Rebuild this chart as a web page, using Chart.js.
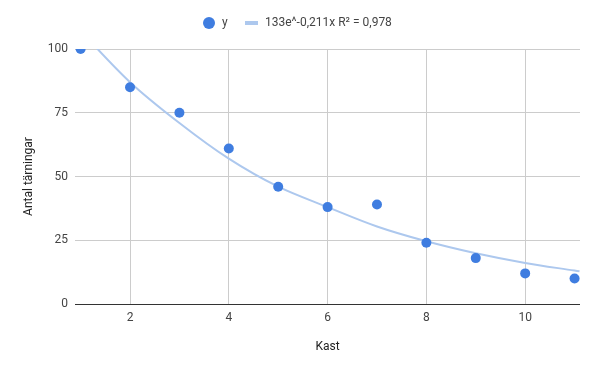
<!DOCTYPE html>
<html><head><meta charset="utf-8">
<script src="https://cdn.jsdelivr.net/npm/chart.js@4/dist/chart.umd.min.js"></script>
<style>html,body{margin:0;padding:0;background:#fff}#wrap{width:600px;height:368px}</style>
</head><body><div id="wrap"><canvas id="c" width="600" height="368"></canvas></div>
<script>
const kast = [1, 2, 3, 4, 5, 6, 7, 8, 9, 10, 11];
const antal = [100, 85, 75, 61, 46, 38, 39, 24, 18, 12, 10];
const trendX = [1, 2, 3, 4, 5, 6, 7, 8, 9, 10, 11, 11.1];
const trendY = [107, 87, 71, 57, 46, 38, 30.4, 24.6, 19.9, 16.1, 13.1, 12.8];
const xTicks = [2, 4, 6, 8, 10];
const seriesName = 'y';
const trendName = '133e^-0,211x R² = 0,978';
const xTitle = 'Kast';
const yTitle = 'Antal tärningar';

const pointColor = '#3f7de0';
const trendColor = '#adc8ee';
const FONT = 'Roboto, Arial, sans-serif';

const legendPlugin = {
  id: 'topLegend',
  afterDraw(chart) {
    const ctx = chart.ctx;
    ctx.save();
    const y = 23;
    ctx.fillStyle = pointColor;
    ctx.beginPath(); ctx.arc(209, y, 6, 0, Math.PI * 2); ctx.fill();
    ctx.font = '12px ' + FONT;
    ctx.fillStyle = '#444';
    ctx.textBaseline = 'middle';
    ctx.fillText(seriesName, 222, y);
    ctx.strokeStyle = trendColor; ctx.lineWidth = 4;
    ctx.beginPath(); ctx.moveTo(245, y); ctx.lineTo(258, y); ctx.stroke();
    ctx.fillText(trendName, 265, y);
    ctx.restore();
  }
};

new Chart(document.getElementById('c'), {
  type: 'scatter',
  data: {
    datasets: [
      { label: seriesName, data: kast.map((x, i) => ({x, y: antal[i]})),
        backgroundColor: pointColor, borderColor: pointColor, pointRadius: 5, pointHoverRadius: 5, borderWidth: 0, order: 0 },
      { label: trendName, data: trendX.map((x, i) => ({x, y: trendY[i]})),
        showLine: true, borderColor: trendColor, backgroundColor: trendColor, borderWidth: 2,
        pointRadius: 0, cubicInterpolationMode: 'monotone', order: 1 }
    ]
  },
  options: {
    responsive: false, animation: false,
    layout: { padding: { top: 49, right: 20, left: 0, bottom: 0 } },
    plugins: { legend: { display: false }, tooltip: { enabled: false } },
    scales: {
      x: {
        type: 'linear', min: 0.886, max: 11.11,
        afterBuildTicks: s => { s.ticks = xTicks.map(v => ({ value: v })); },
        afterFit: s => { s.height = 64; },
        grid: { color: '#cccccc', drawTicks: false },
        border: { display: false },
        ticks: { color: '#444', font: { family: FONT, size: 12 }, padding: 7, maxRotation: 0 },
        title: { display: true, text: xTitle, color: '#222', font: { family: FONT, size: 12 }, padding: { top: 0, bottom: 14 } }
      },
      y: {
        min: 0, max: 100,
        afterFit: s => { s.width = 75; },
        grid: { color: c => c.tick && c.tick.value === 0 ? '#333333' : '#cccccc', drawTicks: false },
        border: { display: false },
        ticks: { stepSize: 25, color: '#444', font: { family: FONT, size: 12 }, padding: 7 },
        title: { display: true, text: yTitle, color: '#222', font: { family: FONT, size: 12 }, padding: { top: 22, bottom: 0 } }
      }
    }
  },
  plugins: [legendPlugin]
});
</script>
</body></html>
